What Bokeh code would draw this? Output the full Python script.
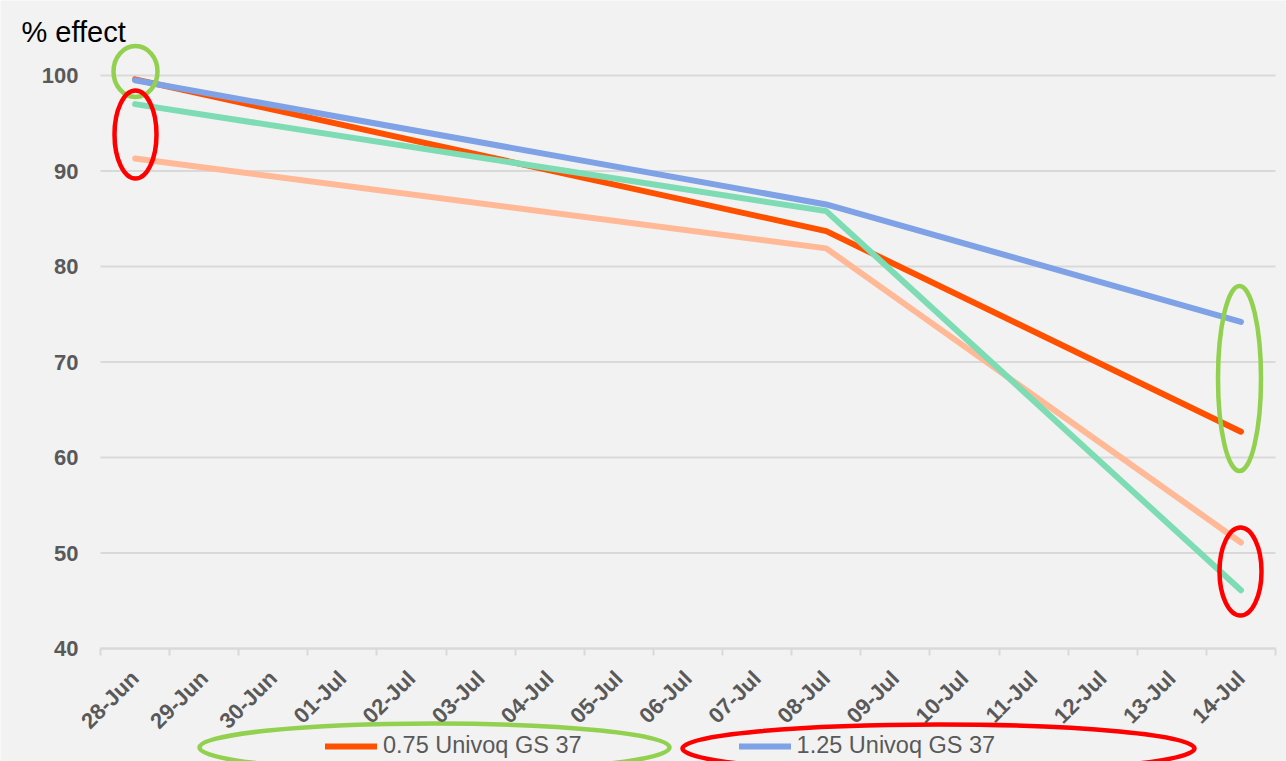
import math
from bokeh.plotting import figure
from bokeh.models import Range1d, LinearAxis, FixedTicker, Legend, LegendItem, Label
from bokeh.embed import file_html
from bokeh.resources import INLINE

# ---------------- data ----------------
categories = ["28-Jun", "29-Jun", "30-Jun", "01-Jul", "02-Jul", "03-Jul", "04-Jul",
              "05-Jul", "06-Jul", "07-Jul", "08-Jul", "09-Jul", "10-Jul", "11-Jul",
              "12-Jul", "13-Jul", "14-Jul"]
obs_dates = ["28-Jun", "08-Jul", "14-Jul"]
univoq_075 = [99.6, 83.7, 62.7]
univoq_125 = [99.5, 86.5, 74.2]
series_green = [97.0, 85.8, 46.1]
series_peach = [91.3, 81.9, 51.1]
y_ticks = [40, 50, 60, 70, 80, 90, 100]
title_text = "% effect"
legend_labels = ["0.75 Univoq GS 37", "1.25 Univoq GS 37"]

# category index of each observation date (category i is centred at x = i)
obs_x = [categories.index(d) for d in obs_dates]

# ---------------- styling ----------------
BG = "#f2f2f2"
GRID = "#d9d9d9"
TXT = "#595959"
FONT = "Liberation Sans"
C_075 = "#ff5000"
C_125 = "#7fa2e6"
C_GREEN = "#7ddcb3"
C_PEACH = "#ffb997"
MARK_GREEN = "#92d050"
MARK_RED = "#ff0000"

W, H = 1286, 761
N = len(categories)
PLOT_L, PLOT_R = 100, 1275          # pixel extent of the category axis
PX_PER_CAT = (PLOT_R - PLOT_L) / N
PX_PER_UNIT = 9.55                  # vertical px per % unit
Y40_PX = 648                        # pixel row of the 40 line
x0 = -0.5 - PLOT_L / PX_PER_CAT
x1 = N - 0.5 + (W - PLOT_R) / PX_PER_CAT
y0 = 40 - (H - Y40_PX) / PX_PER_UNIT
y1 = 40 + Y40_PX / PX_PER_UNIT

p = figure(width=W, height=H, x_range=Range1d(x0, x1), y_range=Range1d(y0, y1),
           x_axis_type=None, y_axis_type=None,
           output_backend="svg", toolbar_location=None, title=None,
           min_border=0)
p.background_fill_color = BG
p.border_fill_color = BG
p.outline_line_color = None
p.xgrid.visible = False
p.ygrid.visible = False

# ---------------- axes ----------------
xaxis = LinearAxis(ticker=FixedTicker(ticks=list(range(N)),
                                      minor_ticks=[i - 0.5 for i in range(N + 1)]),
                   major_label_overrides={i: c for i, c in enumerate(categories)},
                   fixed_location=y_ticks[0], bounds=(-0.5, N - 0.5))
xaxis.axis_line_color = GRID
xaxis.axis_line_width = 2
xaxis.major_tick_line_color = None
xaxis.major_tick_out = 0
xaxis.minor_tick_line_color = GRID
xaxis.minor_tick_line_width = 2
xaxis.minor_tick_in = 0
xaxis.minor_tick_out = 7
xaxis.major_label_orientation = math.pi / 4
xaxis.major_label_standoff = 19
xaxis.major_label_text_font = FONT
xaxis.major_label_text_font_size = "22px"
xaxis.major_label_text_font_style = "bold"
xaxis.major_label_text_color = TXT
p.add_layout(xaxis, "below")

yaxis = LinearAxis(ticker=FixedTicker(ticks=y_ticks), fixed_location=-0.5,
                   bounds=(y_ticks[0], y_ticks[-1]))
yaxis.axis_line_color = None
yaxis.major_tick_line_color = None
yaxis.minor_tick_line_color = None
yaxis.major_tick_out = 0
yaxis.major_label_standoff = 22
yaxis.major_label_text_font = FONT
yaxis.major_label_text_font_size = "22px"
yaxis.major_label_text_font_style = "bold"
yaxis.major_label_text_color = TXT
p.add_layout(yaxis, "left")

# horizontal gridlines spanning the category axis only
p.segment(x0=[-0.5] * len(y_ticks), x1=[N - 0.5] * len(y_ticks), y0=y_ticks, y1=y_ticks,
          line_color=GRID, line_width=2, level="underlay")

# ---------------- series ----------------
lw = 6
r_peach = p.line(obs_x, series_peach, line_color=C_PEACH, line_width=lw, line_join="round", line_cap="round")
r_075 = p.line(obs_x, univoq_075, line_color=C_075, line_width=lw, line_join="round", line_cap="round")
r_green = p.line(obs_x, series_green, line_color=C_GREEN, line_width=lw, line_join="round", line_cap="round")
r_125 = p.line(obs_x, univoq_125, line_color=C_125, line_width=lw, line_join="round", line_cap="round")

# ---------------- hand-drawn highlight ellipses ----------------
def px_to_x(px):
    return -0.5 + (px - PLOT_L) / PX_PER_CAT


def px_to_y(py):
    return 40 - (py - Y40_PX) / PX_PER_UNIT


# (centre x px, centre y px, width px, height px, colour)
highlights = [
    (135, 71, 44, 51, MARK_GREEN),
    (135, 134, 42, 88, MARK_RED),
    (1239, 378, 43, 185, MARK_GREEN),
    (1240, 571, 42, 88, MARK_RED),
    (434, 747, 470, 48, MARK_GREEN),
    (938, 748, 512, 48, MARK_RED),
]
for cx, cy, w, h, col in highlights:
    p.ellipse(x=[px_to_x(cx)], y=[px_to_y(cy)], width=w, height=h,
              width_units="screen", height_units="screen",
              fill_color=None, line_color=col, line_width=4.5)

# ---------------- legend ----------------
legend = Legend(items=[LegendItem(label=legend_labels[0], renderers=[r_075]),
                       LegendItem(label=legend_labels[1], renderers=[r_125])],
                orientation="horizontal", location=(325, 2),
                glyph_width=52, glyph_height=24, label_height=24,
                label_standoff=6, spacing=157, padding=0, margin=0,
                background_fill_alpha=0, border_line_color=None,
                label_text_font=FONT, label_text_font_size="23.5px",
                label_text_color=TXT)
p.add_layout(legend)

# ---------------- title ----------------
p.add_layout(Label(x=px_to_x(21), y=px_to_y(31),
                   text=title_text, text_font=FONT, text_font_size="29px",
                   text_color="#000000", text_baseline="alphabetic"))

open("out.html", "w").write(file_html(p, INLINE))
